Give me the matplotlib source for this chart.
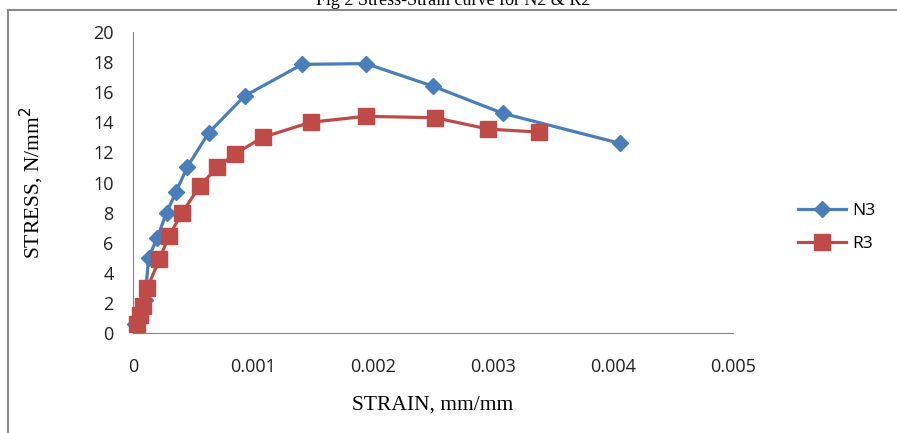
import matplotlib.pyplot as plt
from matplotlib.lines import Line2D

# data
n3_strain = [0.00002, 0.00006, 0.0001, 0.00013, 0.0002, 0.00028, 0.00036, 0.00045,
             0.00063, 0.00093, 0.00141, 0.00194, 0.0025, 0.00308, 0.00406]
n3_stress = [0.6, 1.3, 2.2, 5.0, 6.3, 8.0, 9.4, 11.0, 13.3, 15.75, 17.85, 17.9, 16.4, 14.6, 12.6]

r3_strain = [0.00003, 0.00006, 0.00008, 0.00012, 0.00022, 0.0003, 0.00041, 0.00056,
             0.0007, 0.00085, 0.00108, 0.00148, 0.00194, 0.00252, 0.00296, 0.00338]
r3_stress = [0.6, 1.2, 1.8, 3.0, 4.9, 6.45, 8.0, 9.8, 11.0, 11.9, 13.0, 14.0, 14.4, 14.3, 13.55, 13.35]

x_ticks = [0, 0.001, 0.002, 0.003, 0.004, 0.005]
x_labels = ['0', '0.001', '0.002', '0.003', '0.004', '0.005']
y_ticks = list(range(0, 21, 2))

fig = plt.figure(figsize=(8.97, 4.33), dpi=100)
ax = fig.add_axes([133 / 897, 1 - 333 / 433, 600 / 897, 301 / 433])

ax.plot(n3_strain, n3_stress, color='#4A7EBB', lw=2.3, marker='D', ms=8,
        label='N3', clip_on=False, zorder=3)
ax.plot(r3_strain, r3_stress, color='#BE4B48', lw=2.3, marker='s', ms=12,
        label='R3', clip_on=False, zorder=3)

ax.set_xlim(0, 0.005)
ax.set_ylim(0, 20)
ax.set_xticks(x_ticks)
ax.set_xticklabels(x_labels)
ax.set_yticks(y_ticks)

for s in ['top', 'right']:
    ax.spines[s].set_visible(False)
for s in ['left', 'bottom']:
    ax.spines[s].set_color('#868686')
ax.tick_params(axis='x', length=0, pad=18, labelsize=13)
ax.tick_params(axis='y', length=0, pad=14, labelsize=13)
for lab in ax.get_xticklabels() + ax.get_yticklabels():
    lab.set_family('Open Sans')
    lab.set_color('#222222')

ax.set_xlabel('STRAIN, mm/mm', family='Liberation Serif', fontsize=15.5, labelpad=14)
ax.set_ylabel('STRESS, N/mm$^2$', family='Liberation Serif', fontsize=15.5, labelpad=34)

ax.legend(loc='center left', bbox_to_anchor=(0.872, 0.475), bbox_transform=fig.transFigure,
          frameon=False, prop={'family': 'Open Sans', 'size': 12.5}, handlelength=2.75,
          labelspacing=1.0, handletextpad=0.4)

# cropped title and outer frame
fig.text(0.505, 1 - 5 / 433, 'Fig 2 Stress-Strain curve for N2 & R2', family='Liberation Serif',
         fontsize=13, ha='center', va='baseline')
fig.add_artist(Line2D([8 / 897, 8 / 897], [0, 1 - 10 / 433], color='#8a8a8a', lw=1.5))
fig.add_artist(Line2D([8 / 897, 1], [1 - 10 / 433, 1 - 10 / 433], color='#8a8a8a', lw=1.5))

fig.savefig('out.png', dpi=100)
